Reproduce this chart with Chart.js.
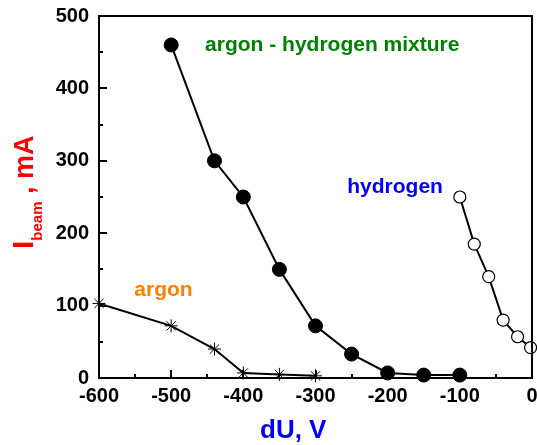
<!DOCTYPE html>
<html>
<head>
<meta charset="utf-8">
<script src="https://cdn.jsdelivr.net/npm/chart.js@4.4.1/dist/chart.umd.min.js"></script>
<style>
  html, body { margin: 0; padding: 0; background: #fff; }
  #wrap { width: 537px; height: 445px; position: relative; }
</style>
</head>
<body>
<div id="wrap"><canvas id="chart"></canvas></div>
<script>
(() => {
  'use strict';

  // Series: dU (V) and beam current (mA)
  const mixtureU = [-500, -440, -400, -350, -300, -250, -200, -150, -100];
  const mixtureI = [460, 300, 250, 150, 72, 33, 7, 4, 4];

  const hydrogenU = [-100, -80, -60, -40, -20, -2];
  const hydrogenI = [250, 185, 140, 80, 57, 42];

  const argonU = [-600, -500, -440, -400, -350, -300];
  const argonI = [103, 72, 40, 7, 5, 3];

  // Axis ranges / ticks
  const xRange = [-600, 0];
  const yRange = [0, 500];
  const majorStep = 100;
  const minorStep = 50;

  // Text labels (name, anchor in data units, colour)
  const labelTexts = ['argon - hydrogen mixture', 'hydrogen', 'argon'];
  const labelAnchors = [[-453, 451], [-256, 255], [-551, 113]];
  const labelColors = ['#008000', '#0000ff', '#ff8000'];

  const FONT = '"Liberation Sans", Arial, sans-serif';
  const pts = (xs, ys) => xs.map((x, i) => ({ x, y: ys[i] }));

  // Frame, inward ticks, axis titles and labels
  const decor = {
    id: 'decor',
    afterDatasetsDraw(chart) {
      const { ctx, chartArea: a, scales: { x, y } } = chart;
      ctx.save();
      ctx.strokeStyle = '#000';
      ctx.lineWidth = 2;
      ctx.beginPath();
      ctx.moveTo(a.left, a.top);
      ctx.lineTo(a.right, a.top);
      ctx.lineTo(a.right, a.bottom);
      ctx.stroke();

      ctx.beginPath();
      for (let v = xRange[0]; v <= xRange[1]; v += minorStep) {
        const px = Math.round(x.getPixelForValue(v));
        const len = v % majorStep === 0 ? 8 : 4;
        ctx.moveTo(px, a.bottom);
        ctx.lineTo(px, a.bottom - len);
      }
      for (let v = yRange[0]; v <= yRange[1]; v += minorStep) {
        const py = Math.round(y.getPixelForValue(v));
        const len = v % majorStep === 0 ? 8 : 4;
        ctx.moveTo(a.left, py);
        ctx.lineTo(a.left + len, py);
      }
      ctx.stroke();

      // annotations
      ctx.font = 'bold 21px ' + FONT;
      ctx.textAlign = 'left';
      ctx.textBaseline = 'alphabetic';
      labelTexts.forEach((t, i) => {
        ctx.fillStyle = labelColors[i];
        ctx.fillText(t, x.getPixelForValue(labelAnchors[i][0]), y.getPixelForValue(labelAnchors[i][1]));
      });

      // x title
      ctx.fillStyle = '#0000ff';
      ctx.font = 'bold 26px ' + FONT;
      ctx.fillText('dU, V', 260, 438);

      // y title: I_beam , mA (rotated)
      ctx.translate(33, 249);
      ctx.rotate(-Math.PI / 2);
      ctx.fillStyle = '#ff0000';
      let cx = 0;
      ctx.font = 'bold 30px ' + FONT;
      ctx.fillText('I', cx, 0);
      cx += ctx.measureText('I').width;
      ctx.font = 'bold 15px ' + FONT;
      ctx.fillText('beam', cx, 9);
      cx += ctx.measureText('beam').width;
      ctx.font = 'bold 27px ' + FONT;
      ctx.fillText(' , mA', cx, 0);
      ctx.restore();
    },
  };

  const tickFont = { family: FONT, size: 20, weight: 'bold' };

  new Chart(document.getElementById('chart'), {
    type: 'scatter',
    data: {
      datasets: [
        {
          label: 'argon - hydrogen mixture',
          data: pts(mixtureU, mixtureI),
          showLine: true,
          borderColor: '#000',
          borderWidth: 2,
          pointRadius: 7,
          pointBackgroundColor: '#000',
          pointBorderColor: '#000',
          pointBorderWidth: 1,
          clip: false,
        },
        {
          label: 'hydrogen',
          data: pts(hydrogenU, hydrogenI),
          showLine: true,
          borderColor: '#000',
          borderWidth: 2,
          pointRadius: 6,
          pointBackgroundColor: '#fff',
          pointBorderColor: '#000',
          pointBorderWidth: 1.2,
          clip: false,
        },
        {
          label: 'argon',
          data: pts(argonU, argonI),
          showLine: true,
          borderColor: '#000',
          borderWidth: 2,
          pointStyle: 'star',
          pointRadius: 6.5,
          pointBorderColor: '#000',
          pointBorderWidth: 1,
          clip: false,
        },
      ],
    },
    options: {
      responsive: true,
      maintainAspectRatio: false,
      animation: false,
      layout: { autoPadding: false, padding: { top: 16, right: 5, left: 0, bottom: 0 } },
      plugins: { legend: { display: false }, tooltip: { enabled: false } },
      scales: {
        x: {
          type: 'linear',
          min: xRange[0],
          max: xRange[1],
          afterFit: s => { s.height = 67; s.paddingLeft = 0; s.paddingRight = 0; },
          grid: { display: false, drawTicks: false },
          border: { display: true, color: '#000', width: 2 },
          ticks: { stepSize: majorStep, color: '#000', font: tickFont, padding: 6, maxRotation: 0 },
        },
        y: {
          type: 'linear',
          min: yRange[0],
          max: yRange[1],
          afterFit: s => { s.width = 99; s.paddingTop = 0; s.paddingBottom = 0; },
          grid: { display: false, drawTicks: false },
          border: { display: true, color: '#000', width: 2 },
          ticks: { stepSize: majorStep, color: '#000', font: tickFont, padding: 10 },
        },
      },
    },
    plugins: [decor],
  });
})();
</script>
</body>
</html>
